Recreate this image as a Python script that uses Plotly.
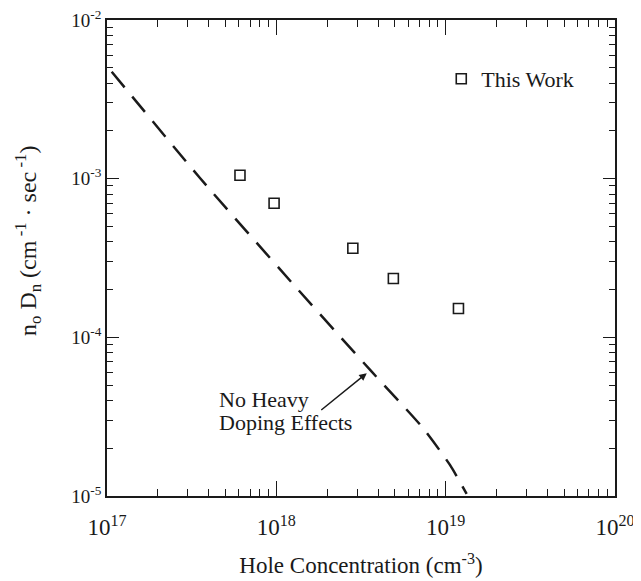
import plotly.graph_objects as go

# Measured points ("This Work")
hole_conc = [6.1e17, 9.7e17, 2.83e18, 4.91e18, 1.19e19]
n0_Dn = [1.05e-3, 7.0e-4, 3.64e-4, 2.35e-4, 1.52e-4]

# Curve: no heavy doping effects
curve_x = [1.066e17, 3.54e17, 1.24e18, 3.67e18, 7.26e18, 1.06e19, 1.33e19]
curve_y = [4.72e-3, 1.01e-3, 2.20e-4, 6.05e-5, 2.72e-5, 1.57e-5, 1.03e-5]

x_tick_vals = [1e17, 1e18, 1e19, 1e20]
x_tick_text = ["10<sup>17</sup>", "10<sup>18</sup>", "10<sup>19</sup>", "10<sup>20</sup>"]
y_tick_vals = [1e-5, 1e-4, 1e-3, 1e-2]
y_tick_text = ["10<sup>-5</sup>", "10<sup>-4</sup>", "10<sup>-3</sup>", "10<sup>-2</sup>"]

FONT = "Liberation Serif"
INK = "#1a1a1a"

fig = go.Figure()
fig.add_trace(go.Scatter(
    x=curve_x, y=curve_y, mode="lines", showlegend=False,
    line=dict(color=INK, width=2.5, dash="20px,12px", shape="spline", smoothing=0.6),
    hoverinfo="skip",
))
fig.add_trace(go.Scatter(
    x=hole_conc, y=n0_Dn, mode="markers", name="This Work",
    marker=dict(symbol="square-open", size=10, color=INK, line=dict(width=1.6, color=INK)),
))

minor_x = [float(m) * 10.0 ** e for e in range(17, 20) for m in range(2, 10)]
minor_y = [float(m) * 10.0 ** e for e in range(-5, -2) for m in range(2, 10)]

fig.update_xaxes(
    type="log", range=[17, 20], automargin=False, ticklabeloverflow="allow",
    tickmode="array", tickvals=x_tick_vals, ticktext=x_tick_text,
    ticks="inside", ticklen=15, tickwidth=1.3, tickcolor=INK, ticklabelstandoff=10,
    minor=dict(tickmode="array", tickvals=minor_x, ticks="inside", ticklen=7, tickwidth=1.2, tickcolor=INK, showgrid=False),
    showline=True, linecolor=INK, linewidth=1.5, mirror="allticks",
    showgrid=False, zeroline=False,
    tickfont=dict(family=FONT, size=23, color=INK),
    title=dict(text="Hole Concentration (cm<sup>-3</sup>)", font=dict(family=FONT, size=23, color=INK), standoff=18),
)
fig.update_yaxes(
    type="log", range=[-5, -2], automargin=False, ticklabeloverflow="allow",
    tickmode="array", tickvals=y_tick_vals, ticktext=y_tick_text,
    ticks="inside", ticklen=12, tickwidth=1.3, tickcolor=INK,
    minor=dict(tickmode="array", tickvals=minor_y, ticks="inside", ticklen=6, tickwidth=1.2, tickcolor=INK, showgrid=False),
    showline=True, linecolor=INK, linewidth=1.5, mirror="allticks",
    showgrid=False, zeroline=False,
    tickfont=dict(family=FONT, size=19, color=INK),
)

# y-axis title
fig.add_annotation(
    xref="paper", yref="paper", x=-(107 - 28) / 508, y=1 - (241 - 20) / 476,
    xanchor="center", yanchor="middle", textangle=-90, showarrow=False,
    text="n<sub>o</sub> D<sub>n</sub> (cm<sup> -1</sup> · sec<sup> -1</sup>)",
    font=dict(family=FONT, size=24, color=INK),
)

fig.add_annotation(
    x=18.534, y=-4.226, xref="x", yref="y",
    ax=-47, ay=38, axref="pixel", ayref="pixel",
    text="", showarrow=True, arrowhead=2, arrowsize=1, arrowwidth=1.5, arrowcolor=INK,
)
fig.add_annotation(
    x=17.650, y=-4.394, xref="x", yref="y", xanchor="left", yanchor="middle",
    text="No Heavy", showarrow=False, align="left",
    font=dict(family=FONT, size=22, color=INK),
)
fig.add_annotation(
    x=17.650, y=-4.539, xref="x", yref="y", xanchor="left", yanchor="middle",
    text="Doping Effects", showarrow=False, align="left",
    font=dict(family=FONT, size=22, color=INK),
)

# The page body adds an 8px offset, so the figure is sized to fit the window
fig.update_layout(
    width=633, height=573,
    margin=dict(l=99, r=26, t=12, b=85),
    paper_bgcolor="white", plot_bgcolor="white",
    font=dict(family=FONT, color=INK),
    legend=dict(x=0.658, y=0.876, xanchor="left", yanchor="middle",
                bgcolor="rgba(0,0,0,0)", font=dict(family=FONT, size=22, color=INK)),
)

fig.write_html("out.html")
